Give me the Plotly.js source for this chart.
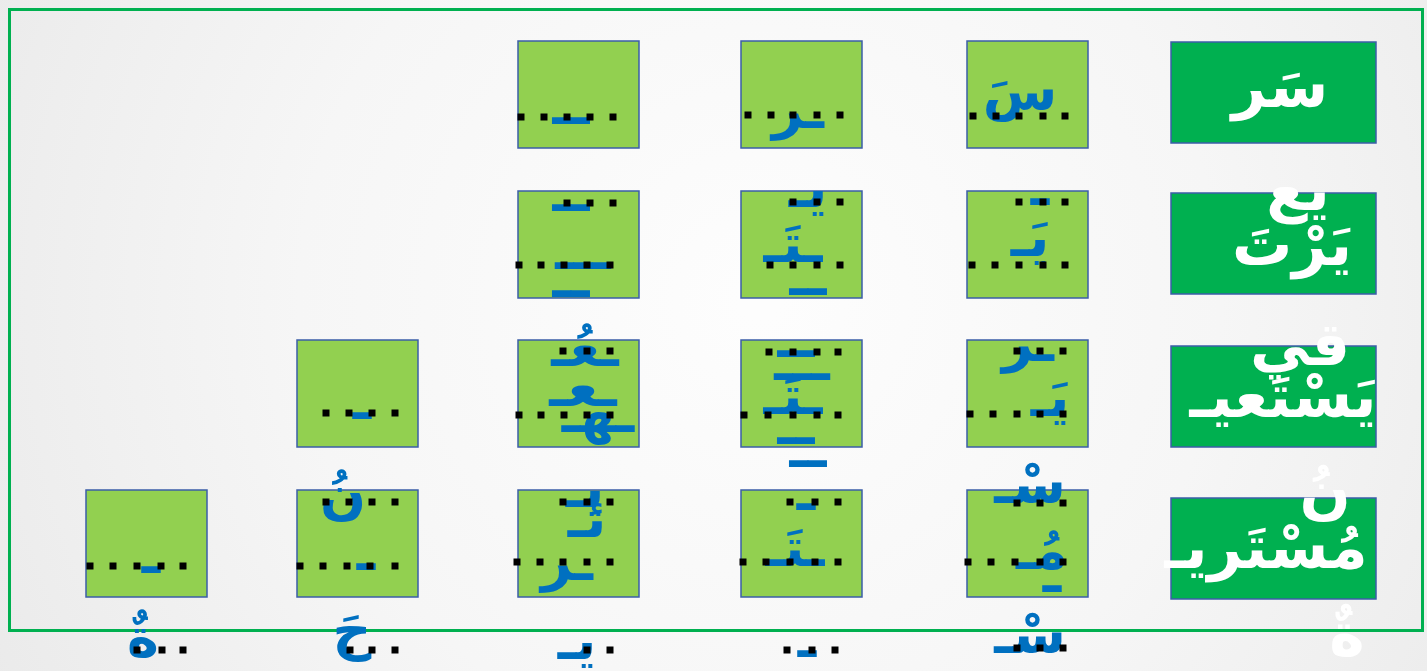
<!DOCTYPE html>
<html><head><meta charset="utf-8">
<script src="https://cdn.plot.ly/plotly-3.0.1.min.js"></script>
<style>html,body{margin:0;padding:0;background:#f3f3f3;}#chart{width:1427px;height:671px;}</style>
</head><body><div id="chart"></div>
<script>
// ---- data ----
const words      = ['سَرِيع', 'يَرْتَقي', 'يَسْتَعينُ', 'مُسْتَريحَةٌ'];
const wordLine1  = ['سَر', 'يَرْتَ', 'يَسْتَعيـ', 'مُسْتَريـ'];
const wordLine2  = ['يع', 'قي', 'نُ', 'ةٌ'];
const boxesPerRow = [3, 3, 4, 5];
// blue letter fragments in each blank box: [row, col, text]
const fragText = [
 [0,0,'سَ'],[0,1,'ـر'],[0,2,'ــ'],
 [1,0,'ـ'],[1,0,'يَـ'],[1,1,'يـ'],[1,1,'ـتَـ'],[1,1,'ــ'],[1,2,'ــ'],[1,2,'ـــ'],[1,2,'ــ'],
 [2,0,'ـر'],[2,0,'يَـ'],[2,0,'سْـ'],[2,1,'ــ'],[2,1,'ـــ'],[2,1,'ـتَـ'],[2,1,'ــ'],[2,1,'ــ'],
 [2,2,'ـعُـ'],[2,2,'ـعـ'],[2,2,'ـهـ'],[2,3,'ـ'],
 [3,0,'مُـ'],[3,0,'ـ'],[3,0,'سْـ'],[3,1,'ـ'],[3,1,'ـتَـ'],[3,1,'ـ'],
 [3,2,'يـ'],[3,2,'ئـ'],[3,2,'ـر'],[3,2,'يـ'],[3,3,'نُ'],[3,3,'ـ'],[3,3,'حَ'],[3,4,'ـ'],[3,4,'ةٌ']
];

// ---- placement (pixels) ----
const colLeft = [967, 741, 518, 297, 86];
const rowTop  = [41, 191, 340, 490];
const boxW = 121, boxH = 107;
const wordBoxLeft = 1171, wordBoxW = 205, wordBoxH = 101;
const wordBoxTop = [42, 193, 346, 498];
const word1Pos = [[1280,92],[1292,250],[1283,402],[1266,553]];
const word2Pos = [[1298,195],[1300,350],[1325,497],[1347,640]];
const fragPos = [
 [1020,96,54],[798,114,54],[571,110,54],
 [1040,191,54],[1030,242,54],[808,193,54],[793,248,54],[808,281,54],[571,197,54],[583,255,54],[571,283,54],
 [1028,347,54],[1050,402,54],[1030,489,54],[796,343,54],[802,366,54],[793,400,54],[796,430,54],[808,453,54],
 [585,352,54],[583,392,54],[598,418,54],[362,405,54],
 [1042,555,54],[1052,578,54],[1030,639,54],[806,496,54],[795,552,54],[807,643,54],
 [585,493,54],[587,523,54],[567,566,54],[577,645,54],[343,499,54],[366,556,54],[352,635,54],[151,559,54],[143,642,54]
];
const dotLines = [
 [116,[973,996,1019,1043,1065]],[115,[748,771,793,817,840]],[117,[521,544,567,590,613]],
 [202,[1019,1043,1065]],[265,[972,995,1019,1043,1065]],
 [202,[793,817,840]],[265,[770,793,817,840]],
 [203,[567,590,613]],[265,[519,541,564,587,610]],
 [351,[1017,1040,1063]],[414,[970,993,1017,1040,1063]],
 [352,[769,793,817,838]],[415,[744,768,793,817,838]],
 [351,[563,587,610]],[415,[519,541,564,587,610]],
 [413,[326,349,372,395]],
 [503,[1017,1040,1063]],[562,[968,991,1015,1040,1063]],[648,[1017,1040,1063]],
 [502,[790,815,838]],[562,[743,766,790,815,838]],[650,[787,812,835]],
 [502,[563,587,610]],[562,[517,540,563,587,610]],[650,[587,610]],
 [502,[326,349,372,395]],[566,[300,323,347,370,395]],[650,[350,372,395]],
 [566,[90,113,137,161,183]],[650,[137,162,183]]
];

// background gradient image
const cv = document.createElement('canvas'); cv.width = 1427; cv.height = 671;
const cx = cv.getContext('2d');
const g = cx.createRadialGradient(760, 300, 20, 760, 300, 900);
g.addColorStop(0, '#fdfdfd'); g.addColorStop(0.5, '#f6f6f6'); g.addColorStop(1, '#e9e9e9');
cx.fillStyle = g; cx.fillRect(0, 0, 1427, 671);
const bg = cv.toDataURL('image/png');

const shapes = [];
shapes.push({type:'rect', x0:9.5, x1:1422.5, y0:9.5, y1:630.5, line:{color:'#00b050', width:3}, layer:'below'});
wordBoxTop.forEach(t => shapes.push({type:'rect', x0:wordBoxLeft, x1:wordBoxLeft+wordBoxW, y0:t, y1:t+wordBoxH,
  fillcolor:'#00b050', line:{color:'#3b5ea8', width:1.5}, layer:'below'}));
boxesPerRow.forEach((n, r) => { for (let c = 0; c < n; c++) {
  shapes.push({type:'rect', x0:colLeft[c], x1:colLeft[c]+boxW, y0:rowTop[r], y1:rowTop[r]+boxH,
    fillcolor:'#92d050', line:{color:'#3b5ea8', width:1.5}, layer:'below'});
}});

const wordTrace = {type:'scatter', mode:'text', hoverinfo:'skip',
  x: word1Pos.map(p=>p[0]).concat(word2Pos.map(p=>p[0])),
  y: word1Pos.map(p=>p[1]).concat(word2Pos.map(p=>p[1])),
  text: wordLine1.concat(wordLine2), textposition:'middle center',
  textfont:{family:'DejaVu Sans', size:60, weight:'bold', color:'#ffffff'}};
const fragTrace = {type:'scatter', mode:'text', hoverinfo:'skip',
  x: fragPos.map(p=>p[0]), y: fragPos.map(p=>p[1]), text: fragText.map(f=>f[2]),
  textposition:'middle center',
  textfont:{family:'DejaVu Sans', size: fragPos.map(p=>p[2]), weight:'bold', color:'#0070c0'}};
const dx = [], dy = [];
dotLines.forEach(([y, xs]) => xs.forEach(x => { dx.push(x); dy.push(y); }));
const dotTrace = {type:'scatter', mode:'markers', hoverinfo:'skip', x:dx, y:dy,
  marker:{symbol:'square', size:7, color:'#000000', line:{width:0}}};

Plotly.newPlot('chart', [wordTrace, fragTrace, dotTrace], {
  width:1427, height:671, margin:{l:0,r:0,t:0,b:0}, showlegend:false,
  paper_bgcolor:'#f3f3f3', plot_bgcolor:'rgba(0,0,0,0)',
  xaxis:{range:[0,1427], visible:false, fixedrange:true},
  yaxis:{range:[671,0], visible:false, fixedrange:true},
  images:[{source:bg, xref:'paper', yref:'paper', x:0, y:1, sizex:1, sizey:1, sizing:'stretch', layer:'below'}],
  shapes: shapes
}, {displayModeBar:false, staticPlot:true});
</script></body></html>
